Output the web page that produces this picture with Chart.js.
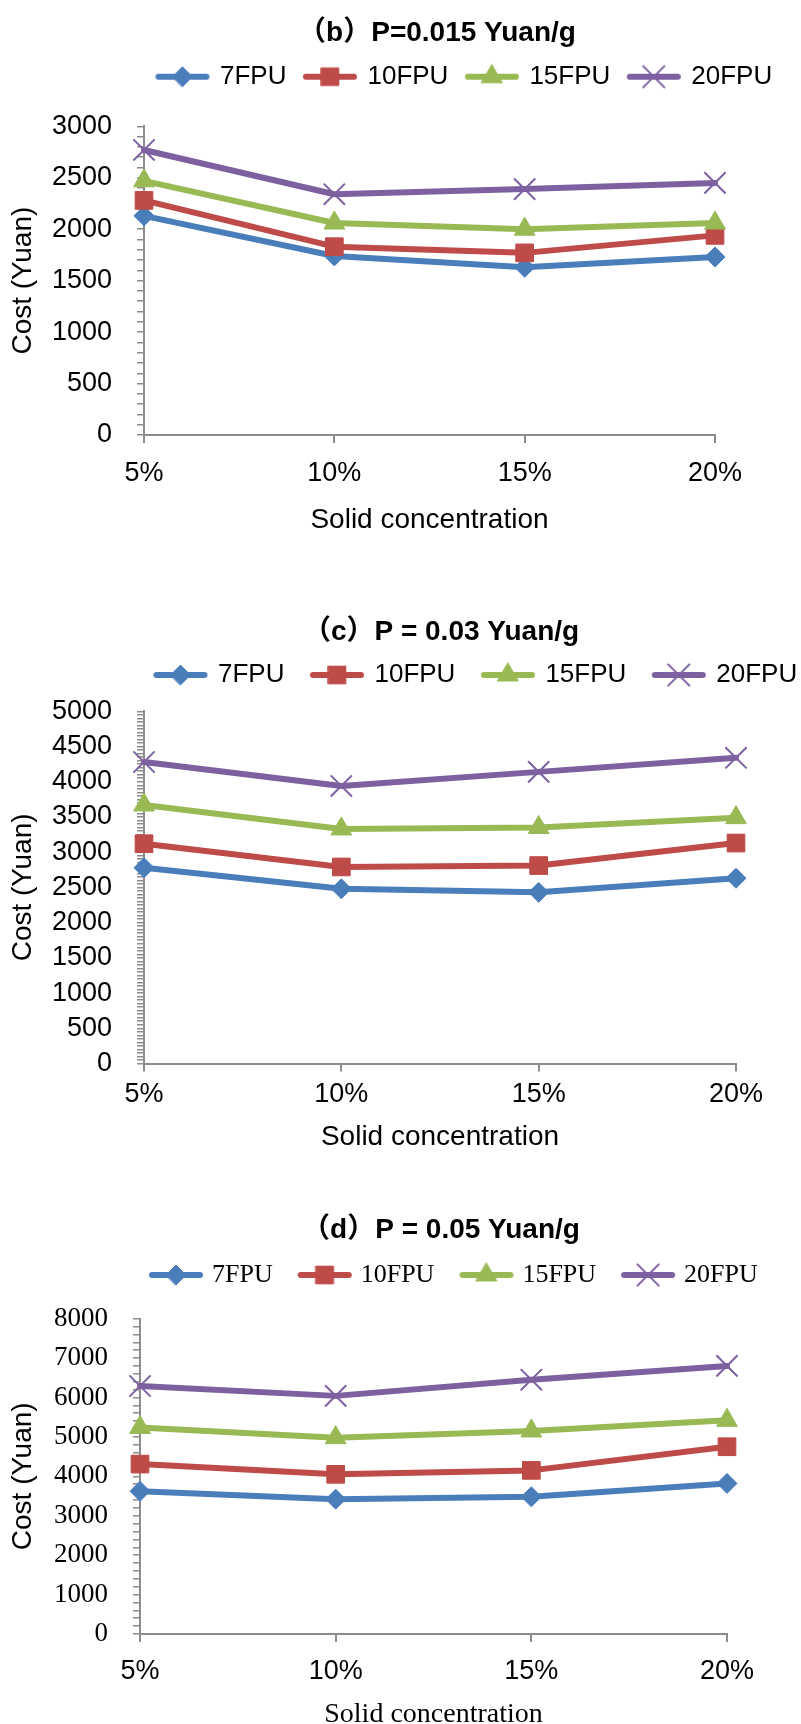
<!DOCTYPE html>
<html>
<head>
<meta charset="utf-8">
<script src="https://cdn.jsdelivr.net/npm/chart.js@4.4.1/dist/chart.umd.min.js"></script>
<style>
  html, body { margin: 0; padding: 0; background: #fff; }
  body { width: 801px; height: 1724px; position: relative; overflow: hidden; }
  canvas { position: absolute; left: 0; }
</style>
</head>
<body>
<canvas id="chart-b" width="801" height="560" style="top:0px"></canvas>
<canvas id="chart-c" width="801" height="600" style="top:560px"></canvas>
<canvas id="chart-d" width="801" height="600" style="top:1160px"></canvas>
<script>
// data
const categories = ["5%", "10%", "15%", "20%"];
const seriesNames = ["7FPU", "10FPU", "15FPU", "20FPU"];

// (b) P=0.015 Yuan/g
const b7 = [2130, 1740, 1630, 1730];
const b10 = [2280, 1830, 1770, 1940];
const b15 = [2470, 2060, 2000, 2060];
const b20 = [2770, 2340, 2390, 2450];
const yTicksB = [0, 500, 1000, 1500, 2000, 2500, 3000];

// (c) P=0.03 Yuan/g
const c7 = [2780, 2480, 2430, 2630];
const c10 = [3120, 2790, 2810, 3130];
const c15 = [3670, 3330, 3350, 3490];
const c20 = [4280, 3940, 4140, 4340];
const yTicksC = [0, 500, 1000, 1500, 2000, 2500, 3000, 3500, 4000, 4500, 5000];

// (d) P=0.05 Yuan/g
const d7 = [3620, 3420, 3480, 3820];
const d10 = [4310, 4050, 4150, 4750];
const d15 = [5240, 4980, 5150, 5420];
const d20 = [6290, 6040, 6450, 6800];
const yTicksD = [0, 1000, 2000, 3000, 4000, 5000, 6000, 7000, 8000];

const seriesColors = ["#4a7ebb", "#be4b48", "#98b954", "#7d60a0"];
const pointStyles = ["rectRot", "rect", "triangle", "crossRot"];
const pointSizes = [10, 12.5, 12, 15];

const sans = "'Liberation Sans', Arial, 'Noto Sans CJK SC', sans-serif";
const serif = "'Liberation Serif', 'Times New Roman', serif";
const axisGray = "#8c8c8c";

function legendIcon(i) {
  const c = document.createElement("canvas");
  c.width = 56;
  c.height = 32;
  const ctx = c.getContext("2d");
  ctx.strokeStyle = seriesColors[i];
  ctx.lineWidth = 6;
  ctx.lineCap = "round";
  ctx.beginPath();
  ctx.moveTo(4, 16);
  ctx.lineTo(52, 16);
  ctx.stroke();
  ctx.fillStyle = seriesColors[i];
  ctx.lineWidth = i === 3 ? 2 : 1;
  Chart.helpers.drawPoint(
    ctx,
    { pointStyle: pointStyles[i], radius: pointSizes[i], rotation: 0, borderWidth: ctx.lineWidth },
    28,
    16
  );
  return c;
}

// moves title and legend to where the figure has them
const placeBoxes = {
  id: "placeBoxes",
  afterLayout(chart, args, opts) {
    const title = chart.titleBlock;
    if (title) {
      title.left = opts.titleX - 350;
      title.right = opts.titleX + 350;
      title.top = opts.titleY - title.height / 2;
      title.bottom = title.top + title.height;
    }
    const legend = chart.legend;
    if (legend) {
      legend.left = opts.legendX - opts.legendPad;
      legend.right = legend.left + 900;
      legend.top = opts.legendY - opts.legendPad - opts.legendFont / 2;
      legend.bottom = legend.top + legend.height;
    }
  },
};

function makeChart(id, series, yMax, step, majorTicks, L) {
  const canvas = document.getElementById(id);
  const ctx = canvas.getContext("2d");

  const datasets = series.map((vals, i) => ({
    label: seriesNames[i],
    data: [...vals],
    borderColor: seriesColors[i],
    backgroundColor: seriesColors[i],
    borderWidth: 6,
    borderCapStyle: "round",
    borderJoinStyle: "round",
    tension: 0,
    pointStyle: pointStyles[i],
    pointRadius: pointSizes[i],
    pointHoverRadius: pointSizes[i],
    pointBackgroundColor: seriesColors[i],
    pointBorderColor: seriesColors[i],
    pointBorderWidth: i === 3 ? 2 : 1,
    order: 4 - i,
    clip: false,
  }));

  return new Chart(ctx, {
    type: "line",
    data: { labels: [...categories], datasets: datasets },
    plugins: [placeBoxes],
    options: {
      responsive: false,
      animation: false,
      devicePixelRatio: 1,
      events: [],
      layout: {
        padding: { top: L.padTop, right: L.padRight, bottom: 0, left: 0 },
      },
      plugins: {
        tooltip: { enabled: false },
        title: {
          display: true,
          text: L.title,
          color: "#000",
          font: { family: sans, size: 28, weight: "bold", lineHeight: 1.2 },
          padding: { top: 0, bottom: 0 },
        },
        legend: {
          display: true,
          position: "top",
          align: "start",
          labels: {
            usePointStyle: true,
            pointStyleWidth: L.boxWidth,
            padding: L.legendPad,
            color: "#000",
            font: { family: L.legendFamily, size: 26 },
            generateLabels: (chart) =>
              chart.data.datasets.map((ds, i) => ({
                text: ds.label,
                pointStyle: legendIcon(i),
                fillStyle: seriesColors[i],
                strokeStyle: seriesColors[i],
                lineWidth: 0,
                hidden: false,
                datasetIndex: i,
                fontColor: "#000",
              })),
          },
        },
        placeBoxes: {
          titleX: L.titleX,
          titleY: L.titleY,
          legendX: L.legendX,
          legendY: L.legendY,
          legendPad: L.legendPad,
          legendFont: 26,
        },
      },
      scales: {
        x: {
          type: "category",
          offset: false,
          afterFit: (scale) => {
            scale.height = L.xAxisHeight;
          },
          border: { display: true, color: axisGray, width: 2 },
          grid: {
            display: true,
            drawOnChartArea: false,
            drawTicks: true,
            tickLength: 8,
            color: axisGray,
            lineWidth: 2,
          },
          ticks: {
            padding: L.xTickPad,
            color: "#000",
            maxRotation: 0,
            autoSkip: false,
            font: { family: sans, size: 27 },
          },
          title: {
            display: true,
            text: "Solid concentration",
            color: "#000",
            font: { family: L.xTitleFamily, size: 28 },
            padding: { top: 0, bottom: L.xTitlePad },
          },
        },
        y: {
          min: 0,
          max: yMax,
          afterFit: (scale) => {
            scale.width = L.left;
          },
          border: { display: true, color: axisGray, width: 2 },
          grid: {
            display: true,
            drawOnChartArea: false,
            drawTicks: true,
            tickLength: 7,
            color: axisGray,
            lineWidth: 1.5,
          },
          ticks: {
            stepSize: step,
            maxTicksLimit: 200,
            autoSkip: false,
            padding: 25,
            color: "#000",
            font: { family: L.yTickFamily, size: 27 },
            callback: (value) => (majorTicks.includes(value) ? String(value) : ""),
          },
          title: {
            display: true,
            text: "Cost (Yuan)",
            color: "#000",
            font: { family: sans, size: 28 },
            padding: { top: 6, bottom: 0 },
          },
        },
      },
    },
  });
}

document.addEventListener("DOMContentLoaded", () => {
  makeChart("chart-b", [b7, b10, b15, b20], 3000, 100, yTicksB, {
    title: "（b）P=0.015 Yuan/g",
    left: 144, padRight: 86, padTop: 37.7,
    titleX: 437, titleY: 33,
    legendX: 158, legendY: 76.7, legendPad: 19, boxWidth: 49,
    legendFamily: sans, yTickFamily: sans, xTitleFamily: sans,
    xAxisHeight: 125, xTickPad: 14.1, xTitlePad: 23.2,
  });

  makeChart("chart-c", [c7, c10, c15, c20], 5000, 50, yTicksC, {
    title: "（c）P = 0.03 Yuan/g",
    left: 144, padRight: 65, padTop: 53.7,
    titleX: 441, titleY: 72.5,
    legendX: 156, legendY: 115, legendPad: 28, boxWidth: 49,
    legendFamily: sans, yTickFamily: sans, xTitleFamily: sans,
    xAxisHeight: 96.5, xTickPad: 7.3, xTitlePad: 6.2,
  });

  makeChart("chart-d", [d7, d10, d15, d20], 8000, 200, yTicksD, {
    title: "（d）P = 0.05 Yuan/g",
    left: 140, padRight: 74, padTop: 60,
    titleX: 441, titleY: 70,
    legendX: 153, legendY: 115, legendPad: 29, boxWidth: 46,
    legendFamily: serif, yTickFamily: serif, xTitleFamily: serif,
    xAxisHeight: 126, xTickPad: 13.3, xTitlePad: 28.5,
  });
});
</script>
</body>
</html>
